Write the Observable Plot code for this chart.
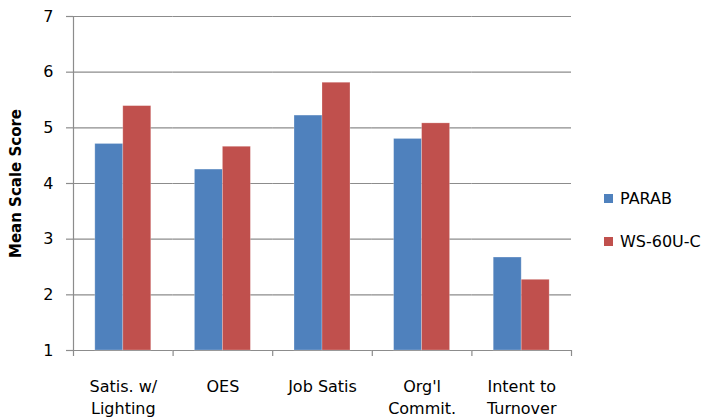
<!DOCTYPE html>
<html>
<head>
<meta charset="utf-8">
<script src="https://cdn.jsdelivr.net/npm/d3@7"></script>
<script src="https://cdn.jsdelivr.net/npm/@observablehq/plot@0.6"></script>
<style>
  body { margin: 0; background: #fff; }
  #chart { position: relative; width: 709px; height: 419px; }
  #chart [aria-label="y-axis label"] { font-weight: bold; font-size: 15px; }
  .lg-swatches {
    position: absolute !important; left: 604px; top: 189px;
    margin: 0 !important; min-height: 0 !important;
    font: 16px "DejaVu Sans", sans-serif !important; color: #000 !important;
  }
  .lg-swatches .lg-swatch { height: 19px; padding-bottom: 24px !important; }
  .lg-swatches .lg-swatch svg { margin-right: 7px !important; }
</style>
</head>
<body>
<div id="chart"></div>
<script>
// Mean scale scores for the two lighting conditions
const categories = ["Satis. w/\nLighting", "OES", "Job Satis", "Org'l\nCommit.", "Intent to\nTurnover"];
const series = ["PARAB", "WS-60U-C"];
const parab = [4.71, 4.25, 5.22, 4.80, 2.67];
const ws60uc = [5.39, 4.66, 5.81, 5.08, 2.27];
const yTicks = [1, 2, 3, 4, 5, 6, 7];
const colors = ["#4F81BD", "#C0504D"];

const data = categories.flatMap((c, i) => [
  {category: c, series: series[0], value: parab[i]},
  {category: c, series: series[1], value: ws60uc[i]}
]);

const gray = "#8c8c8c";

const plot = Plot.plot({
  width: 709,
  height: 419,
  marginLeft: 73,
  marginRight: 138,
  marginTop: 16,
  marginBottom: 69,
  style: {fontFamily: "'DejaVu Sans', sans-serif", fontSize: "16px", color: "#000", background: "#fff"},
  fx: {domain: categories, padding: 0, round: false, label: null},
  x: {domain: series, paddingInner: 0, paddingOuter: 0.78, round: false, axis: null},
  y: {domain: [1, 7], label: "Mean Scale Score"},
  color: {domain: series, range: colors},
  marks: [
    Plot.gridY(yTicks, {stroke: gray, strokeOpacity: 1, strokeWidth: 1.2}),
    Plot.barY(data, {
      fx: "category", x: "series", y1: 1, y2: "value", fill: "series",
      stroke: "#fff", strokeOpacity: 0.3, strokeWidth: 0.8
    }),
    Plot.axisY(yTicks, {
      tickSize: 7, tickPadding: 13, stroke: gray, strokeWidth: 1.2, tickFormat: "d",
      label: "Mean Scale Score", labelAnchor: "center", labelOffset: 63, labelArrow: "none"
    }),
    Plot.axisFx({anchor: "bottom", tickSize: 0, tickPadding: 26, lineHeight: 1.36, fontSize: 16, label: null})
  ]
});

// Vertical axis line and category boundary ticks, placed with the plot's own scales
const fx = plot.scale("fx");
const y = plot.scale("y");
const starts = categories.map((c) => fx.apply(c));
const bounds = [...starts, starts[starts.length - 1] + fx.bandwidth];
const y0 = y.apply(1);
const g = d3.select(plot).append("g").attr("stroke", gray).attr("stroke-width", 1.2);
g.append("line")
  .attr("x1", bounds[0] + 0.5).attr("x2", bounds[0] + 0.5)
  .attr("y1", y.apply(7)).attr("y2", y0 + 6);
bounds.slice(1).forEach((b) => {
  g.append("line").attr("x1", b + 0.5).attr("x2", b + 0.5).attr("y1", y0).attr("y2", y0 + 6);
});

const legend = Plot.legend({
  color: {domain: series, range: colors},
  legend: "swatches",
  columns: 1,
  swatchSize: 9,
  className: "lg"
});

const chart = document.getElementById("chart");
chart.appendChild(plot);
chart.appendChild(legend);
</script>
</body>
</html>
